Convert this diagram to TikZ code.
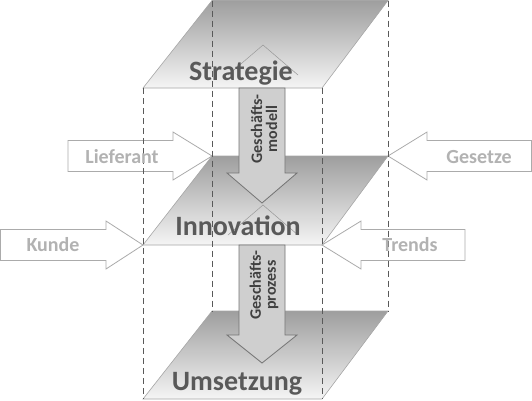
\documentclass[tikz,border=0pt]{standalone}
\usepackage{fontspec}
\setmainfont{Carlito}
\begin{document}
\begin{tikzpicture}[x=1pt,y=-1pt,
  plane/.style={top color=black!38, bottom color=black!4, draw=black!35, line width=0.6pt},
  bigarrow/.style={fill=black!19, draw=black!55, line width=0.8pt},
  sidearrow/.style={fill=white, draw=black!33, line width=0.8pt},
  guide/.style={draw=black!65, dash pattern=on 6pt off 4pt, line width=0.7pt},
  ghost/.style={draw=black!40, line width=0.5pt},
  mainlabel/.style={font=\bfseries\fontsize{28}{30}\selectfont, text=black!65, anchor=base, inner sep=0pt},
  sidelabel/.style={font=\bfseries\fontsize{20}{22}\selectfont, text=black!30, anchor=base, inner sep=0pt},
  arrowlabel/.style={font=\bfseries\fontsize{16}{15}\selectfont, text=black!75, rotate=90, align=center, inner sep=0pt}]
\useasboundingbox (0,0) rectangle (532,400);
% plane corners
\coordinate (TA) at (143,88);  \coordinate (TB) at (322,88);
\coordinate (TC) at (388,0.5); \coordinate (TD) at (212,0.5);
\coordinate (MA) at (143,245); \coordinate (MB) at (322,245);
\coordinate (MC) at (388,156); \coordinate (MD) at (212,156);
\coordinate (BA) at (143,399); \coordinate (BB) at (322,399);
\coordinate (BC) at (388,311); \coordinate (BD) at (212,311);
% planes
\shade[plane] (TA) -- (TB) -- (TC) -- (TD) -- cycle;
\shade[plane] (MA) -- (MB) -- (MC) -- (MD) -- cycle;
\shade[plane] (BA) -- (BB) -- (BC) -- (BD) -- cycle;
% ghost arrowheads
\draw[ghost] (228,75) -- (263,45) -- (298,75);
\draw[ghost] (228,235) -- (263,205) -- (298,235);
% big arrows
\coordinate (A1s) at (262,88);  \coordinate (A1t) at (262,203);
\coordinate (A2s) at (262,245); \coordinate (A2t) at (262,363);
\draw[bigarrow] (A1s) ++(-23,0) -- ++(0,85) -- ++(-12,0) -- (A1t) -- ++(35,-30) -- ++(-12,0) -- ++(0,-85) -- cycle;
\draw[bigarrow] (A2s) ++(-23,0) -- ++(0,90) -- ++(-12,0) -- (A2t) -- ++(35,-28) -- ++(-12,0) -- ++(0,-90) -- cycle;
\node[arrowlabel] (m1) at (264,129) {Geschäfts-\\modell};
\node[arrowlabel] (m2) at (264,285) {Geschäfts-\\prozess};
% side arrows
\draw[sidearrow] (MD) -- ++(-39,-24) -- ++(0,8.5) -- ++(-105,0) -- ++(0,31) -- ++(105,0) -- ++(0,8.5) -- cycle;
\draw[sidearrow] (MA) -- ++(-37,-24) -- ++(0,8.5) -- (0.5,229.5) -- (0.5,260.5) -- (106,260.5) -- ++(0,8.5) -- cycle;
\draw[sidearrow] (MC) -- ++(39,-24) -- ++(0,8.5) -- (531.5,140.5) -- (531.5,171.5) -- (427,171.5) -- ++(0,8.5) -- cycle;
\draw[sidearrow] (MB) -- ++(39,-24) -- ++(0,8.5) -- ++(104,0) -- ++(0,31) -- ++(-104,0) -- ++(0,8.5) -- cycle;
% dashed guides
\draw[guide] (TD) -- (BD);
\draw[guide] (TC) -- (BC);
\draw[guide] (TA) -- (BA);
\draw[guide] (TB) -- (BB);
% labels
\node[mainlabel] (s) at (241,80) {Strategie};
\node[mainlabel] (i) at (238,235) {Innovation};
\node[mainlabel] (u) at (237,390) {Umsetzung};
\node[sidelabel] (l) at (122,163) {Lieferant};
\node[sidelabel] (k) at (53,251) {Kunde};
\node[sidelabel] (g) at (479,163) {Gesetze};
\node[sidelabel] (t) at (410,251) {Trends};
\end{tikzpicture}
\end{document}
